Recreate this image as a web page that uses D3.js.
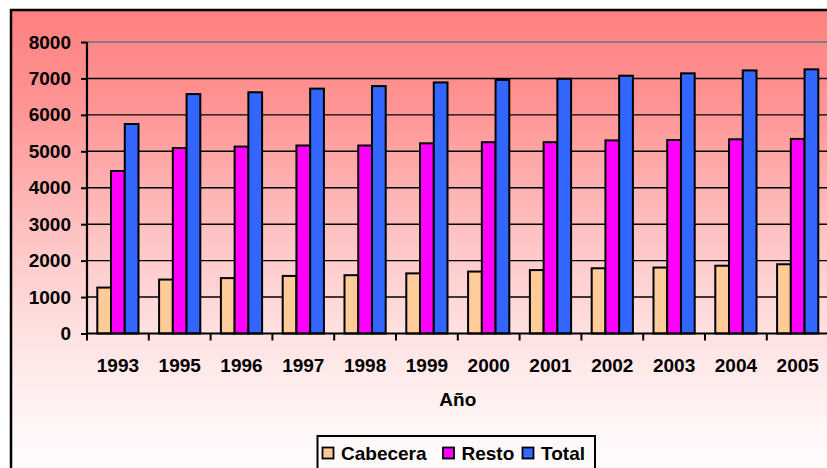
<!DOCTYPE html>
<html>
<head>
<meta charset="utf-8">
<script src="https://cdn.jsdelivr.net/npm/d3@7/dist/d3.min.js"></script>
<style>
  html, body { margin: 0; padding: 0; background: #ffffff; }
  svg { display: block; }
  text { font-family: "Liberation Sans", Arial, sans-serif; font-weight: bold; fill: #000; }
</style>
</head>
<body>
<svg id="chart" width="827" height="468"></svg>
<script>
// Population by year: head town (Cabecera), remainder (Resto) and total
const years = ["1993", "1995", "1996", "1997", "1998", "1999", "2000", "2001", "2002", "2003", "2004", "2005"];
const cabecera = [1260, 1480, 1520, 1580, 1600, 1650, 1700, 1740, 1790, 1810, 1860, 1900];
const resto = [4460, 5090, 5130, 5160, 5160, 5220, 5250, 5250, 5300, 5310, 5330, 5340];
const total = [5750, 6570, 6620, 6720, 6790, 6890, 6960, 6990, 7075, 7140, 7220, 7250];
const seriesNames = ["Cabecera", "Resto", "Total"];
const seriesColors = ["#FFCC99", "#FF00FF", "#3366FF"];
const yTicks = [0, 1000, 2000, 3000, 4000, 5000, 6000, 7000, 8000];
const xTitle = "Año";

const seriesValues = [cabecera, resto, total];
const svg = d3.select("#chart");

// Chart area background: rose gradient fading to white
const defs = svg.append("defs");
const grad = defs.append("linearGradient")
  .attr("id", "bg").attr("gradientUnits", "userSpaceOnUse")
  .attr("x1", 0).attr("y1", 10).attr("x2", 0).attr("y2", 490);
[[0, "#FF8080"], [0.2, "#FF9494"], [0.5, "#FFC8C8"], [0.68, "#FFE2E2"], [0.85, "#FFF4F4"], [1, "#FFFFFF"]]
  .forEach(([o, c]) => grad.append("stop").attr("offset", o).attr("stop-color", c));

svg.append("rect")
  .attr("x", 11).attr("y", 10).attr("width", 840).attr("height", 500)
  .attr("fill", "url(#bg)").attr("stroke", "#000").attr("stroke-width", 2.5);

// Scales
const plotLeft = 87, plotRight = 828.6, plotTop = 42, plotBottom = 333.5;
const x = d3.scaleBand().domain(years).range([plotLeft, plotRight]).paddingInner(0).paddingOuter(0);
const xs = d3.scaleBand().domain(seriesNames).range([0, x.bandwidth()]).paddingInner(0).paddingOuter(0.75);
const y = d3.scaleLinear().domain([0, 8000]).range([plotBottom, plotTop]);

// Horizontal gridlines
svg.append("g").selectAll("line")
  .data(yTicks.filter(t => t > 0 && t < 8000))
  .join("line")
  .attr("x1", plotLeft).attr("x2", plotRight + 10)
  .attr("y1", d => y(d)).attr("y2", d => y(d))
  .attr("stroke", "#000").attr("stroke-width", 1.4);

// Plot area top border
svg.append("line")
  .attr("x1", plotLeft).attr("x2", plotRight + 10)
  .attr("y1", y(8000)).attr("y2", y(8000))
  .attr("stroke", "#808080").attr("stroke-width", 2);

// Bars
const rows = years.map((yr, i) => ({ yr, vals: seriesNames.map((s, k) => ({ s, k, v: seriesValues[k][i] })) }));
svg.append("g").selectAll("g")
  .data(rows)
  .join("g")
  .attr("transform", d => `translate(${x(d.yr)},0)`)
  .selectAll("rect")
  .data(d => d.vals)
  .join("rect")
  .attr("x", d => xs(d.s))
  .attr("width", xs.bandwidth())
  .attr("y", d => y(d.v))
  .attr("height", d => y(0) - y(d.v))
  .attr("fill", d => seriesColors[d.k])
  .attr("stroke", "#000").attr("stroke-width", 2);

// Y axis
const yAxis = svg.append("g")
  .attr("transform", `translate(${plotLeft},0)`)
  .call(d3.axisLeft(y).tickValues(yTicks).tickSize(6).tickPadding(10).tickFormat(d3.format("d")));
yAxis.select(".domain").attr("stroke", "#000").attr("stroke-width", 2.2).attr("d", `M0,${plotTop}V${plotBottom}`);
yAxis.selectAll(".tick line").attr("stroke", "#000").attr("stroke-width", 2);
yAxis.selectAll(".tick text").attr("font-size", 19).attr("font-family", null).attr("fill", "#000");

// X axis: baseline, category-boundary ticks and labels
const xAxis = svg.append("g")
  .attr("transform", `translate(0,${plotBottom})`)
  .call(d3.axisBottom(x).tickSize(0).tickPadding(0));
xAxis.select(".domain").attr("stroke", "#000").attr("stroke-width", 2.2).attr("d", `M${plotLeft},0H${plotRight + 10}`);
xAxis.selectAll(".tick text")
  .attr("font-size", 19).attr("font-family", null).attr("fill", "#000")
  .attr("dy", null).attr("y", 38);
svg.append("g").selectAll("line")
  .data(years)
  .join("line")
  .attr("x1", d => x(d)).attr("x2", d => x(d))
  .attr("y1", plotBottom).attr("y2", plotBottom + 7)
  .attr("stroke", "#000").attr("stroke-width", 2);

// Axis title
svg.append("text")
  .attr("x", (plotLeft + plotRight) / 2).attr("y", 406)
  .attr("text-anchor", "middle").attr("font-size", 19)
  .text(xTitle);

// Legend
const legend = svg.append("g");
legend.append("rect")
  .attr("x", 317.5).attr("y", 436).attr("width", 277.5).attr("height", 50)
  .attr("fill", "none").attr("stroke", "#000").attr("stroke-width", 2);
const legendX = [322.5, 443, 522.5];
seriesNames.forEach((s, k) => {
  legend.append("rect")
    .attr("x", legendX[k]).attr("y", 447.5).attr("width", 11).attr("height", 11)
    .attr("fill", seriesColors[k]).attr("stroke", "#000").attr("stroke-width", 1.8);
  legend.append("text")
    .attr("x", legendX[k] + 18.5).attr("y", 460)
    .attr("font-size", 19)
    .text(s);
});
</script>
</body>
</html>
